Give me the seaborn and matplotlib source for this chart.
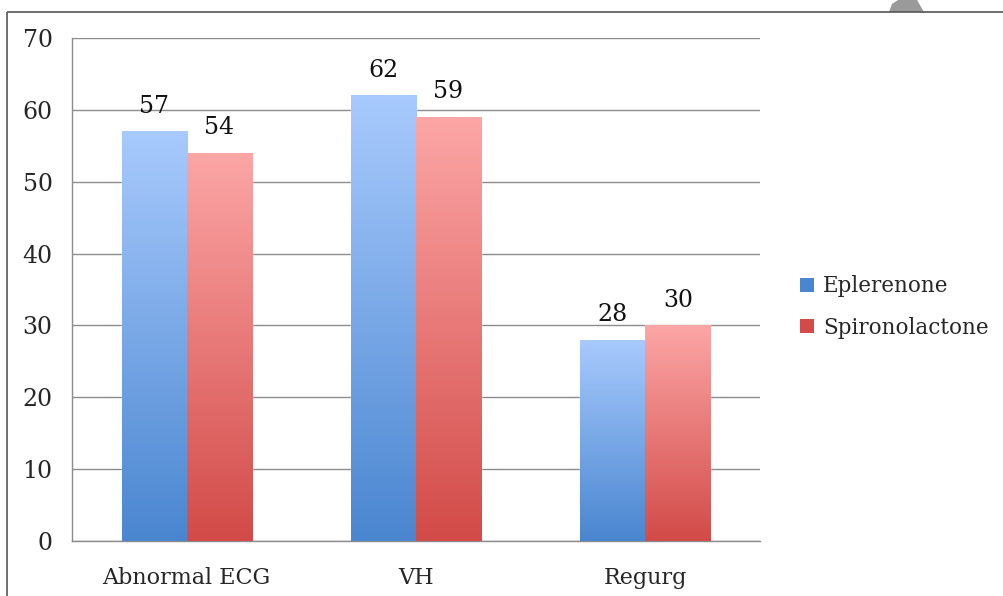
import numpy as np
import pandas as pd
import seaborn as sns
import matplotlib.pyplot as plt
from matplotlib.colors import LinearSegmentedColormap
from matplotlib.lines import Line2D
from matplotlib.patches import Patch, Polygon

categories = ['Abnormal ECG', 'VH', 'Regurg']
eplerenone = [57, 62, 28]
spironolactone = [54, 59, 30]
series = ['Eplerenone', 'Spironolactone']

df = pd.DataFrame({
    'cat': categories * 2,
    'value': eplerenone + spironolactone,
    'drug': [series[0]] * 3 + [series[1]] * 3,
})

sns.set_style('white')
plt.rcParams['font.family'] = ['DejaVu Serif']

fig = plt.figure(figsize=(10.04, 5.96), dpi=100)
ax = fig.add_axes([0.0717, 0.0923, 0.6853, 0.8440])

grad = {
    'Eplerenone': ('#a8cafd', '#4a86d0'),
    'Spironolactone': ('#fca6a6', '#d24b48'),
}

sns.barplot(data=df, x='cat', y='value', hue='drug', hue_order=series,
            palette=[grad[s][1] for s in series], width=0.567,
            saturation=1, ax=ax, legend=False)

# gradient fill for each bar
for cont, name in zip(ax.containers, series):
    cmap = LinearSegmentedColormap.from_list(name, [grad[name][1], grad[name][0]])
    for bar, v in zip(cont, cont.datavalues):
        x0 = bar.get_x()
        w = bar.get_width()
        h = bar.get_height()
        g = np.linspace(0, 1, 256).reshape(-1, 1)
        im = ax.imshow(g, cmap=cmap, aspect='auto', origin='lower',
                       extent=[x0, x0 + w, 0, h], zorder=3)
        im.set_clip_path(bar)
        ax.text(x0 + w / 2, h + 1.9, f'{int(v)}', ha='center', va='bottom',
                fontsize=17, color='#111111', zorder=4)

ax.set_xlim(-0.5, 2.5)
ax.set_ylim(0, 70)
ax.set_yticks(range(0, 71, 10))
ax.set_xticks([0, 1, 2])
ax.set_xticklabels(categories)
ax.set_xticks([-0.5, 0.5, 1.5, 2.5], minor=True)
ax.tick_params(axis='x', which='major', length=0, pad=19, labelsize=16)
ax.tick_params(axis='x', which='minor', length=7, color='#8c8c8c', width=1, direction='out')
ax.tick_params(axis='y', length=7, color='#8c8c8c', width=1, direction='out',
               pad=7, labelsize=17)
ax.set_xlabel('')
ax.set_ylabel('')
ax.yaxis.grid(True, color='#8c8c8c', linewidth=1)
ax.set_axisbelow(True)
for s in ['top', 'right']:
    ax.spines[s].set_visible(False)
for s in ['left', 'bottom']:
    ax.spines[s].set_color('#8c8c8c')
    ax.spines[s].set_linewidth(1)

handles = [Patch(facecolor=grad[s][1], edgecolor='none') for s in series]
fig.legend(handles, series, loc='center left', bbox_to_anchor=(0.778, 0.485),
           frameon=False, fontsize=15.5, handlelength=0.65, handleheight=0.65,
           handletextpad=0.4, labelspacing=0.9)

# outer frame lines and the grey shape at the top edge
fig.add_artist(Line2D([0.007, 1.0], [0.980, 0.980], color='#555555', linewidth=1.2,
                      solid_capstyle='butt'))
fig.add_artist(Line2D([0.007, 0.007], [0.0, 0.980], color='#555555', linewidth=1.2,
                      solid_capstyle='butt'))
blob = [(889, 12), (892, 4), (898, 0), (917, 0), (924, 12)]
fig.add_artist(Polygon([(px / 1004, 1 - py / 596) for px, py in blob],
                       closed=True, transform=fig.transFigure,
                       facecolor='#9a9a9a', edgecolor='none'))

fig.savefig('out.png', dpi=100)
